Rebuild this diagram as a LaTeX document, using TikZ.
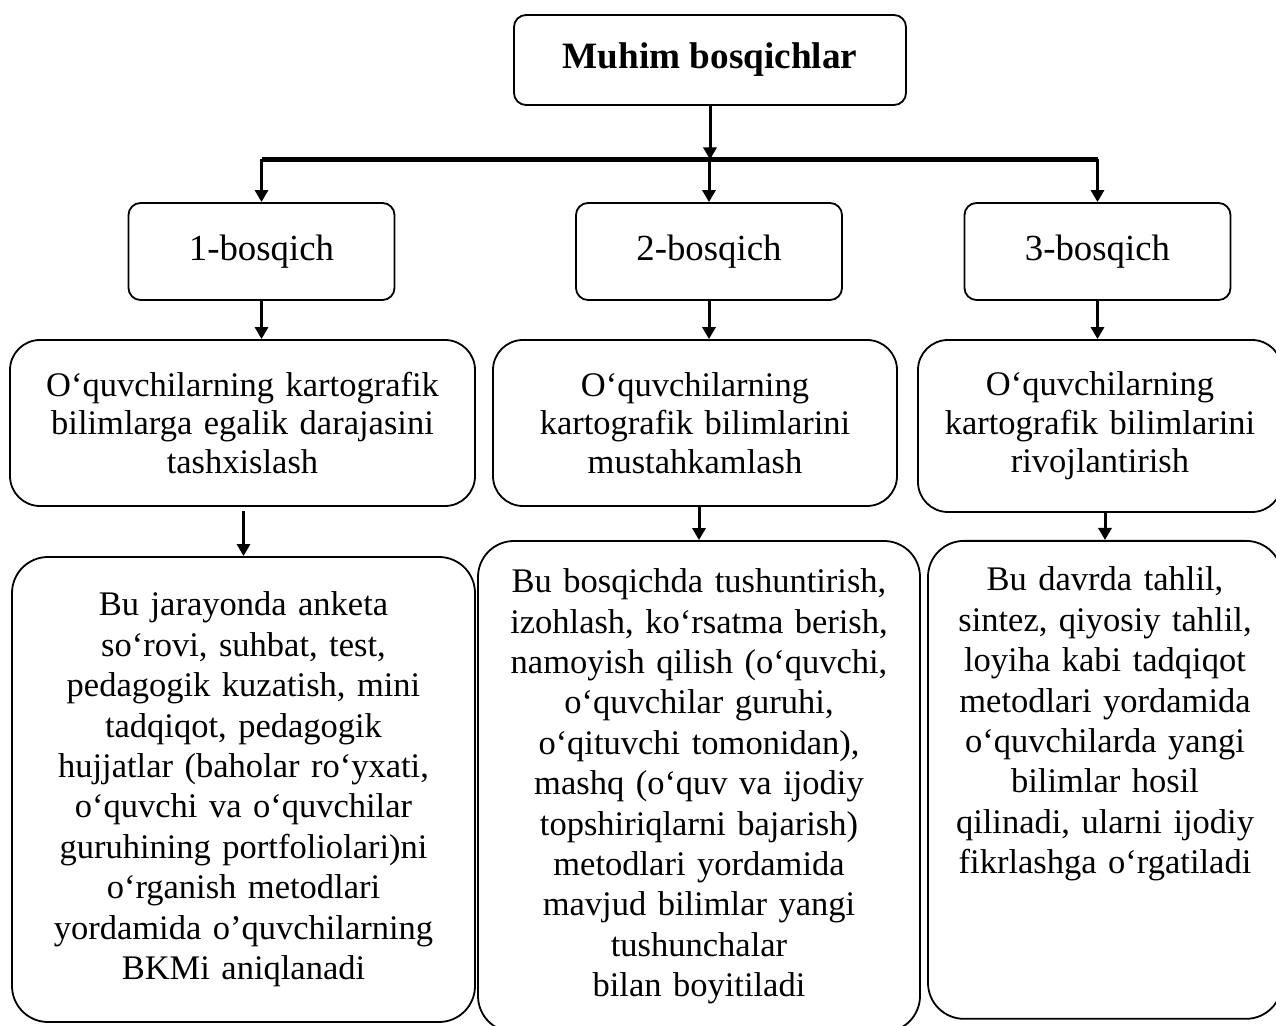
\documentclass[tikz,border=0pt]{standalone}
\usepackage{fontspec}
\setmainfont{Liberation Serif}
\usetikzlibrary{arrows.meta,positioning,calc}

\begin{document}
\begin{tikzpicture}[
    x=0.5pt, y=-0.5pt,
    head/.style={rectangle, draw, line width=0.9pt, rounded corners=6pt, minimum width=196pt, minimum height=45pt, align=center, font=\fontsize{18.6}{22}\selectfont\bfseries},
    stagebox/.style={rectangle, draw, line width=0.9pt, rounded corners=6pt, minimum width=133pt, minimum height=48.5pt, align=center, font=\fontsize{18.4}{22}\selectfont},
    goal/.style={rectangle, draw, line width=0.9pt, rounded corners=15pt, inner xsep=4pt, align=center, font=\fontsize{17.25}{19.3}\selectfont},
    detail/.style={rectangle, draw, line width=0.9pt, rounded corners=18pt, inner xsep=4pt, align=center, font=\fontsize{17.25}{20.2}\selectfont},
    arrow/.style={-{Triangle[length=6pt,width=6.5pt]}, line width=1.5pt},
    bus/.style={line width=2.6pt}
]
    \useasboundingbox (0,0) rectangle (1276,1026);

    % === Top: main box and the bus ===
    \node[head] (title) at (710,60) {Muhim bosqichlar};
    \coordinate (busL) at (261.5,159.5);
    \coordinate (busR) at (1097.5,159.5);
    \draw[bus] (busL) -- (busR);
    \draw[arrow] (title.south) -- (title.south |- busL);

    % === Stages ===
    \node[stagebox] (stage1) at (261.5,251.5) {1-bosqich};
    \node[stagebox] (stage2) at (709,251.5) {2-bosqich};
    \node[stagebox] (stage3) at (1097.5,251.5) {3-bosqich};
    \foreach \s in {stage1,stage2,stage3}
        \draw[arrow] (\s.north |- busL) -- (\s.north);

    % === Goals of each stage ===
    \node[goal, text width=224.5pt, minimum height=83pt] (goal1) at (242.5,423)
        {O‘quvchilarning kartografik\\bilimlarga egalik darajasini\\tashxislash};
    \node[goal, text width=194pt, minimum height=83pt] (goal2) at (695,423)
        {O‘quvchilarning\\kartografik bilimlarini\\mustahkamlash};
    \node[goal, text width=174pt, minimum height=86pt] (goal3) at (1100,426)
        {O‘quvchilarning\\kartografik bilimlarini\\rivojlantirish};
    \draw[arrow] (stage1.south) -- (stage1.south |- goal1.north);
    \draw[arrow] (stage2.south) -- (stage2.south |- goal2.north);
    \draw[arrow] (stage3.south) -- (stage3.south |- goal3.north);

    % === Details ===
    \node[detail, text width=223.5pt, minimum height=232.5pt] (detail1) at (243.5,789.5)
        {Bu jarayonda anketa\\so‘rovi, suhbat, test,\\pedagogik kuzatish, mini\\tadqiqot, pedagogik\\hujjatlar (baholar ro‘yxati,\\o‘quvchi va o‘quvchilar\\guruhining portfoliolari)ni\\o‘rganish metodlari\\yordamida o’quvchilarning\\BKMi aniqlanadi};
    \node[detail, text width=213pt, minimum height=245.5pt] (detail2) at (699,786.5)
        {Bu bosqichda tushuntirish,\\izohlash, ko‘rsatma berish,\\namoyish qilish (o‘quvchi,\\o‘quvchilar guruhi,\\o‘qituvchi tomonidan),\\mashq (o‘quv va ijodiy\\topshiriqlarni bajarish)\\metodlari yordamida\\mavjud bilimlar yangi\\tushunchalar\\bilan boyitiladi};
    \node[detail, text width=169pt, inner ysep=13pt, text depth=201pt, anchor=north] (detail3) at (1105,540)
        {Bu davrda tahlil,\\sintez, qiyosiy tahlil,\\loyiha kabi tadqiqot\\metodlari yordamida\\o‘quvchilarda yangi\\bilimlar hosil\\qilinadi, ularni ijodiy\\fikrlashga o‘rgatiladi};
    \draw[arrow, shorten <=2pt] (detail1.north |- goal1.south) -- (detail1.north);
    \draw[arrow] (goal2.south -| detail2.north) -- (detail2.north);
    \draw[arrow] (detail3.north |- goal3.south) -- (detail3.north);
\end{tikzpicture}
\end{document}
